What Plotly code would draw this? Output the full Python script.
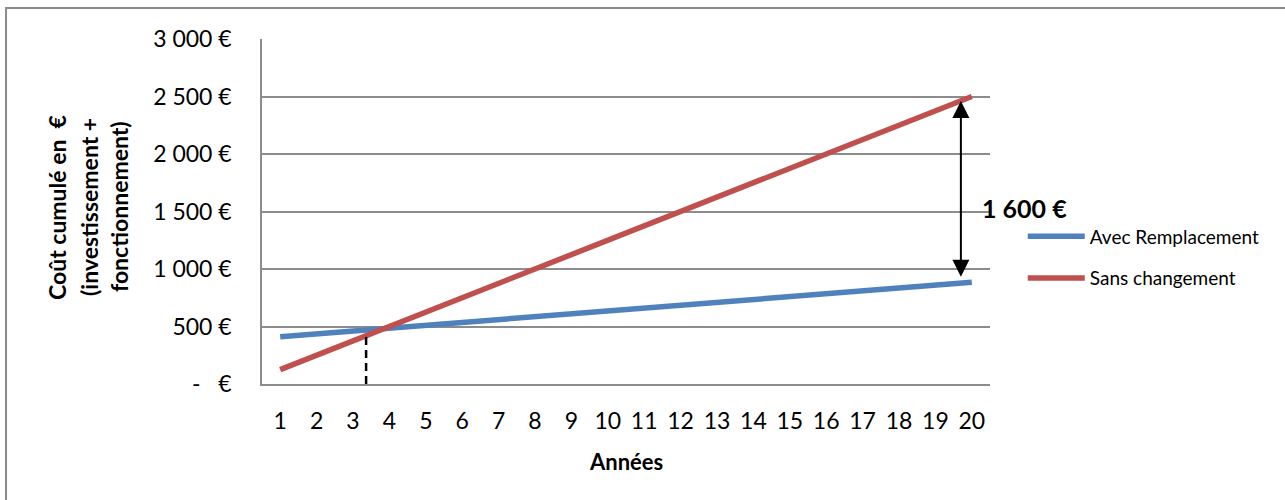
import numpy as np
import plotly.graph_objects as go

# ---- data ----
years = list(range(1, 21))
avec_remplacement = [410, 435, 460, 485, 510, 535, 560, 585, 610, 635,
                     660, 685, 710, 735, 760, 785, 810, 835, 860, 885]
sans_changement = [125, 250, 375, 500, 625, 750, 875, 1000, 1125, 1250,
                   1375, 1500, 1625, 1750, 1875, 2000, 2125, 2250, 2375, 2500]
y_tick_values = [0, 500, 1000, 1500, 2000, 2500, 3000]
y_tick_labels = ["-\u00a0\u00a0\u00a0€", "500 €", "1 000 €", "1 500 €",
                 "2 000 €", "2 500 €", "3 000 €"]
y_title_lines = ["Coût cumulé en  €", "(investissement +", "fonctionnement)"]
x_title = "Années"
gap_label = "1 600 €"
gap_arrow_x = 19.7
gap_arrow_top = 2460
gap_arrow_bottom = 920
breakeven_x = 3.36

FONT = "Lato"
GRID = "#8c8c8c"

fig = go.Figure()
fig.add_trace(go.Scatter(x=years, y=avec_remplacement, mode="lines",
                         name="Avec Remplacement",
                         line=dict(color="#4F81BD", width=5.5),
                         legendgroup="a"))
fig.add_trace(go.Scatter(x=years, y=sans_changement, mode="lines",
                         name="Sans changement",
                         line=dict(color="#C0504D", width=5.5),
                         legendgroup="b"))

# dashed break-even marker
fig.add_shape(type="line", xref="x", yref="y",
              x0=breakeven_x, x1=breakeven_x, y0=0,
              y1=float(np.interp(breakeven_x, years, sans_changement)),
              line=dict(color="black", width=2.5, dash="8px,5px"))

# outer frame of the chart area
fig.add_shape(type="rect", xref="paper", yref="paper",
              x0=-0.3516, x1=1.6, y0=-0.6, y1=1.0899,
              line=dict(color="#8a8a8a", width=2), layer="below")

# double-headed arrow showing the gap
fig.add_annotation(x=gap_arrow_x, y=gap_arrow_top, ax=gap_arrow_x, ay=gap_arrow_bottom,
                   xref="x", yref="y", axref="x", ayref="y", text="",
                   showarrow=True, arrowhead=2, arrowside="end+start",
                   arrowsize=1.7, arrowwidth=2, arrowcolor="black", standoff=0,
                   startstandoff=0)
fig.add_annotation(x=20.22, y=1530, xref="x", yref="y", text="<b>" + gap_label + "</b>",
                   showarrow=False, xanchor="left", yanchor="middle",
                   font=dict(family=FONT, size=25, color="black"))

# y axis title (three lines)
for xp, line in zip([-0.2816, -0.2377, -0.1964], y_title_lines):
    fig.add_annotation(x=xp, y=0.513, xref="paper", yref="paper",
                       text="<b>" + line + "</b>", textangle=-90, showarrow=False,
                       xanchor="center", yanchor="middle",
                       font=dict(family=FONT, size=23, color="black"))

# x axis title
fig.add_annotation(x=0.5, y=-0.226, xref="paper", yref="paper",
                   text="<b>" + x_title + "</b>", showarrow=False,
                   xanchor="center", yanchor="middle",
                   font=dict(family=FONT, size=22, color="black"))

fig.update_layout(
    width=1285, height=500,
    margin=dict(l=262, r=295, t=39, b=116),
    paper_bgcolor="white", plot_bgcolor="white",
    font=dict(family=FONT, color="black"),
    showlegend=True,
    legend=dict(x=1.045, y=0.483, xanchor="left", yanchor="top",
                font=dict(family=FONT, size=19, color="black"),
                traceorder="grouped", tracegroupgap=14, itemwidth=57,
                bgcolor="rgba(0,0,0,0)"),
    xaxis=dict(range=[0.5, 20.5], tickvals=years, ticktext=[str(y) for y in years],
               showgrid=False, zeroline=False, showline=True, linecolor=GRID,
               linewidth=1.5, ticks="outside", ticklen=0, ticklabelstandoff=16,
               tickfont=dict(family=FONT, size=23, color="black"), fixedrange=True),
    yaxis=dict(range=[0, 3000], tickvals=y_tick_values, ticktext=y_tick_labels,
               showgrid=True, gridcolor=GRID, gridwidth=1.5, zeroline=False,
               showline=True, linecolor=GRID, linewidth=1.5,
               ticks="outside", ticklen=0, ticklabelstandoff=24,
               tickfont=dict(family=FONT, size=23, color="black"), fixedrange=True),
)

fig.write_html("out.html", config={"displayModeBar": False},
               post_script="document.body.style.margin='0';"
                           "document.body.style.overflow='hidden';")
